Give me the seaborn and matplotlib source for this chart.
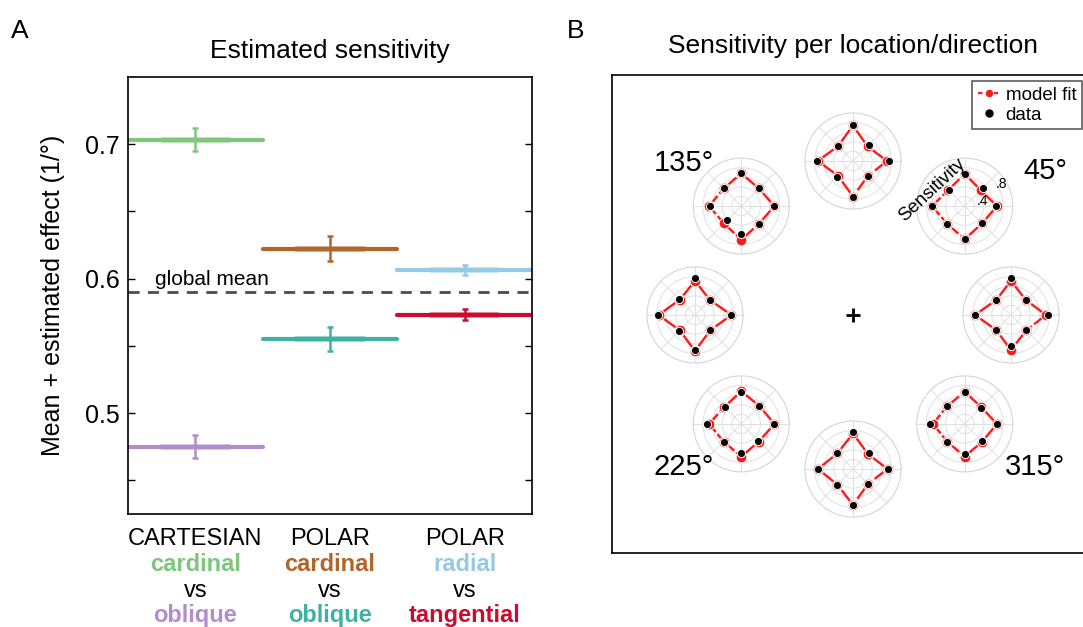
import numpy as np
import pandas as pd
import matplotlib
matplotlib.use("Agg")
import matplotlib.pyplot as plt
from matplotlib.lines import Line2D
import seaborn as sns

# ---- panel A data ----
groups = ["CARTESIAN", "POLAR", "POLAR"]
cond_a = ["cardinal", "cardinal", "radial"]
cond_b = ["oblique", "oblique", "tangential"]
mean_a = [0.7035, 0.6224, 0.6062]
err_a = [0.0083, 0.0090, 0.0037]
mean_b = [0.4749, 0.5552, 0.5731]
err_b = [0.0085, 0.0087, 0.0040]
colors_a = ["#7fc67d", "#b0662a", "#96c9e2"]
colors_b = ["#b38ccb", "#3fb1a3", "#cc0c2f"]
global_mean = 0.590

# ---- panel B data (sensitivity per direction 0,45,...,315 deg) ----
directions = [0, 45, 90, 135, 180, 225, 270, 315]
locations = [0, 45, 90, 135, 180, 225, 270, 315]
data_sens = {
    0:   [0.78, 0.44, 0.78, 0.44, 0.75, 0.44, 0.64, 0.43],
    45:  [0.66, 0.53, 0.66, 0.47, 0.68, 0.53, 0.69, 0.50],
    90:  [0.76, 0.46, 0.74, 0.44, 0.74, 0.46, 0.75, 0.44],
    135: [0.69, 0.52, 0.68, 0.52, 0.66, 0.41, 0.59, 0.52],
    180: [0.75, 0.45, 0.77, 0.46, 0.77, 0.46, 0.73, 0.45],
    225: [0.69, 0.53, 0.67, 0.49, 0.72, 0.52, 0.60, 0.49],
    270: [0.72, 0.48, 0.78, 0.46, 0.73, 0.46, 0.76, 0.44],
    315: [0.67, 0.48, 0.67, 0.53, 0.72, 0.52, 0.62, 0.51],
}
model_sens = {
    0:   [0.73, 0.44, 0.71, 0.44, 0.75, 0.44, 0.73, 0.45],
    45:  [0.67, 0.47, 0.67, 0.48, 0.68, 0.52, 0.69, 0.51],
    90:  [0.71, 0.43, 0.74, 0.44, 0.73, 0.44, 0.74, 0.44],
    135: [0.69, 0.52, 0.68, 0.52, 0.67, 0.51, 0.70, 0.52],
    180: [0.76, 0.44, 0.71, 0.45, 0.76, 0.45, 0.75, 0.45],
    225: [0.69, 0.53, 0.68, 0.50, 0.67, 0.52, 0.68, 0.52],
    270: [0.72, 0.44, 0.74, 0.46, 0.73, 0.46, 0.75, 0.44],
    315: [0.67, 0.49, 0.67, 0.52, 0.66, 0.52, 0.68, 0.52],
}
corner_labels = {135: "135°", 45: "45°", 225: "225°", 315: "315°"}

sns.set_style("white")
plt.rcParams["font.family"] = ["Liberation Sans", "DejaVu Sans"]
plt.rcParams.update({"text.color": "black", "axes.labelcolor": "black",
                     "xtick.color": "black", "ytick.color": "black"})

W, H = 1083, 627
fig = plt.figure(figsize=(W / 100, H / 100), dpi=100)

# -----------------------------
# A. Estimated sensitivity
# -----------------------------
ax = fig.add_axes([128 / W, 113 / H, 404 / W, 437 / H])
for i in range(3):
    for m, e, c in [(mean_a[i], err_a[i], colors_a[i]), (mean_b[i], err_b[i], colors_b[i])]:
        sns.lineplot(x=[i - 0.5, i + 0.5], y=[m, m], color=c, lw=3, ax=ax, legend=False)
        sns.lineplot(x=[i - 0.25, i + 0.25], y=[m, m], color=c, lw=4, alpha=0.6, ax=ax, legend=False)
        ax.errorbar(i, m, yerr=e, color=c, lw=1.8, capsize=2.5, capthick=1.8, zorder=4)

ax.axhline(global_mean, color="#4d4d4d", lw=2, ls=(0, (4, 3)), zorder=1)
ax.text(-0.3, 0.595, "global mean", fontsize=15, ha="left", va="baseline")

ax.set_xlim(-0.5, 2.5)
ax.set_ylim(0.425, 0.75)
ax.set_yticks([0.45, 0.5, 0.55, 0.6, 0.65, 0.7])
ax.set_yticklabels(["", "0.5", "", "0.6", "", "0.7"], fontsize=18)
ax.set_xticks([])
ax.tick_params(axis="y", direction="in", length=5, width=1, left=True, right=True, pad=6)
for s in ax.spines.values():
    s.set_color("black")
    s.set_linewidth(1.2)
ax.set_ylabel("Mean + estimated effect (1/°)", fontsize=18, labelpad=14)
ax.set_title("Estimated sensitivity", fontsize=19, pad=14)

for i in range(3):
    rows = [(groups[i], "black", "normal"), (cond_a[i], colors_a[i], "bold"),
            ("vs", "black", "normal"), (cond_b[i], colors_b[i], "bold")]
    for k, (txt, c, w) in enumerate(rows):
        ax.annotate(txt, xy=(i, 0), xycoords=("data", "axes fraction"),
                    xytext=(0, -22.5 - 18.5 * k), textcoords="offset points",
                    ha="center", va="baseline", fontsize=17, color=c, fontweight=w,
                    annotation_clip=False)

fig.text(11 / W, 1 - 38 / H, "A", fontsize=19, va="baseline")

# -----------------------------
# B. Sensitivity per location/direction
# -----------------------------
axB = fig.add_axes([612 / W, 74 / H, 0.47, 478 / H])
axB.set_xticks([])
axB.set_yticks([])
for s in axB.spines.values():
    s.set_color("black")
    s.set_linewidth(1.2)

fig.text(853 / W, 1 - 53 / H, "Sensitivity per location/direction", fontsize=19,
         ha="center", va="baseline")
fig.text(567 / W, 1 - 38 / H, "B", fontsize=19, va="baseline")

cx0, cy0, rx, ry, rad = 853, 315, 158, 154, 48
theta = np.deg2rad(directions)
theta_c = np.append(theta, 2 * np.pi)
for loc in locations:
    a = np.deg2rad(loc)
    cx = cx0 + rx * np.cos(a)
    cy = cy0 - ry * np.sin(a)
    pax = fig.add_axes([(cx - rad) / W, 1 - (cy + rad) / H, 2 * rad / W, 2 * rad / H],
                       projection="polar")
    d = np.array(data_sens[loc])
    mdl = np.array(model_sens[loc])
    pax.plot(theta_c, np.append(mdl, mdl[0]), color="#ff1a1a", lw=1.7,
             ls=(0, (10, 1.2)), zorder=3)
    sns.scatterplot(x=theta, y=mdl, color="#ff1a1a", s=60, edgecolor="white",
                    linewidth=0.7, ax=pax, zorder=4, legend=False)
    sns.scatterplot(x=theta, y=d, color="black", s=34, edgecolor="white",
                    linewidth=0.7, ax=pax, zorder=5, legend=False)
    pax.set_ylim(0, 1)
    pax.set_yticks([0.2, 0.4, 0.6, 0.8])
    pax.set_xticks(theta)
    pax.set_xticklabels([])
    pax.set_yticklabels([])
    pax.set_xlabel("")
    pax.set_ylabel("")
    pax.grid(True, color="#e0e0e0", lw=0.7)
    pax.spines["polar"].set_color("#d5d5d5")
    pax.spines["polar"].set_linewidth(0.8)
    pax.tick_params(length=0, pad=0)
    pax.patch.set_alpha(0)
    if loc == 45:
        pax.text(np.deg2rad(17), 0.38, ".4", fontsize=10, ha="center", va="center")
        pax.text(np.deg2rad(31), 0.9, ".8", fontsize=10, ha="center", va="center")
        fig.text(932 / W, 1 - 190 / H, "Sensitivity", fontsize=13.5, rotation=43,
                 ha="center", va="center")

for loc, txt in corner_labels.items():
    pos = {135: (684, 163), 45: (1045, 171), 225: (684, 467), 315: (1035, 467)}[loc]
    fig.text(pos[0] / W, 1 - pos[1] / H, txt, fontsize=21, ha="center", va="center")

fig.add_artist(Line2D([853 / W], [1 - 315 / H], marker="+", color="black",
                      markersize=10, mew=2, transform=fig.transFigure))

handles = [Line2D([], [], color="#ff1a1a", ls=(0, (2, 1.5)), lw=1.6, marker="o",
                  markersize=6, markeredgecolor="white", markeredgewidth=0.6),
           Line2D([], [], color="black", ls="none", marker="o", markersize=5)]
leg = fig.legend(handles, ["model fit", "data"], loc="upper left",
                 bbox_to_anchor=(972 / W, 1 - 81 / H), fontsize=13.5, frameon=True,
                 fancybox=False, edgecolor="#333333", handlelength=1.2,
                 handletextpad=0.3, borderpad=0.3, labelspacing=0.15, borderaxespad=0)
leg.get_frame().set_linewidth(1.2)

fig.savefig("out.png", dpi=100)
